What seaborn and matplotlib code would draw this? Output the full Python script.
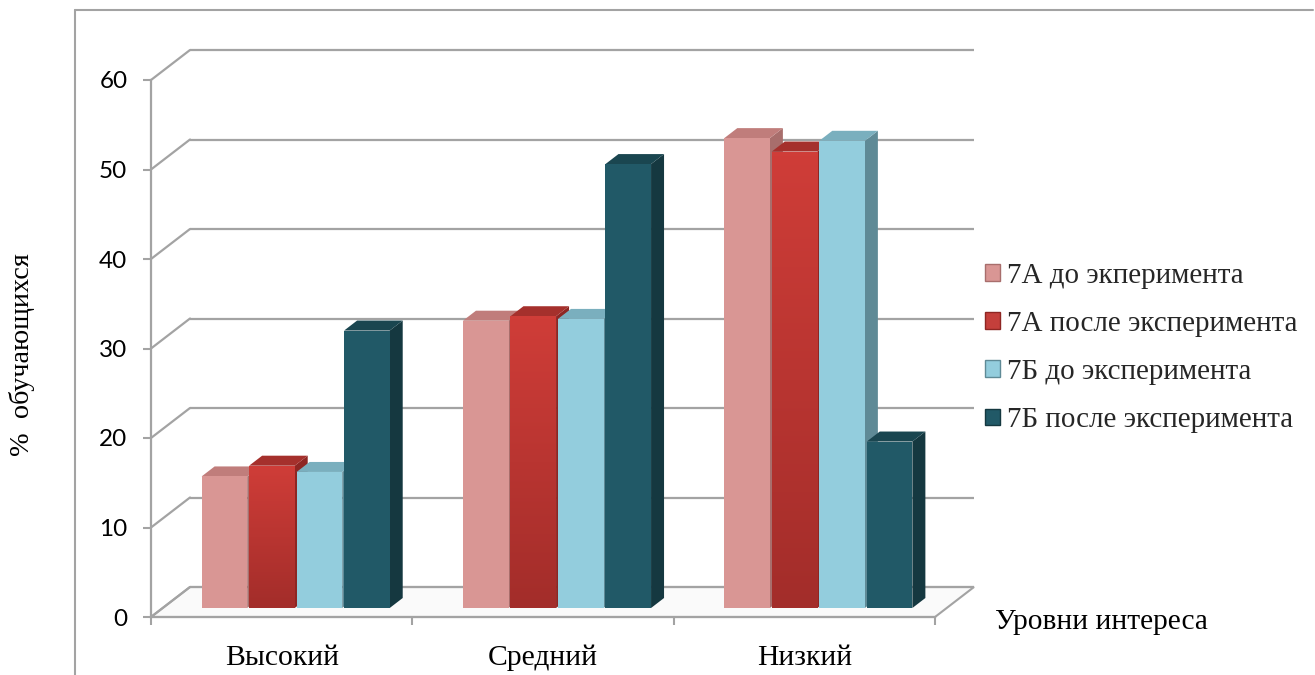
import numpy as np
import pandas as pd
import seaborn as sns
import matplotlib
matplotlib.use("Agg")
import matplotlib.pyplot as plt
from matplotlib import transforms
from matplotlib.patches import Polygon, Rectangle
from matplotlib.lines import Line2D
from matplotlib.colors import LinearSegmentedColormap

# ---- data -------------------------------------------------------------
levels = ["Высокий", "Средний", "Низкий"]
groups = ["7А до экперимента", "7А после эксперимента",
          "7Б до эксперимента", "7Б после эксперимента"]
a_before = [14.7, 32.1, 52.5]
a_after = [15.9, 32.6, 51.0]
b_before = [15.2, 32.3, 52.2]
b_after = [31.0, 49.6, 18.6]
y_ticks = [0, 10, 20, 30, 40, 50, 60]

df = pd.DataFrame({
    "level": levels * 4,
    "group": np.repeat(groups, 3),
    "value": a_before + a_after + b_before + b_after,
})

# ---- styling ----------------------------------------------------------
front = ["#D99694", "#C43F3B", "#93CDDD", "#215967"]
top_c = ["#C07D7B", "#A5302C", "#7AAFBE", "#1A4650"]
side_c = ["#A86E6C", "#8E2623", "#5F8A96", "#153840"]
grad_top = {1: "#CF3D38"}
grad_bot = {1: "#A32D2A"}
grid_col = "#A3A3A3"

sns.set_theme(style="white")
plt.rcParams["font.family"] = ["Lato", "DejaVu Sans"]
serif = ["Liberation Serif", "DejaVu Serif"]

W, H = 1315, 675
fig = plt.figure(figsize=(W / 100, H / 100), dpi=100)
fig.patch.set_facecolor("white")

# front plane of the plot box (pixels): x 151..935, y 617 (0) .. 80 (60)
ax = fig.add_axes([151 / W, 58 / H, 784 / W, 537 / H])
ax.set_xlim(-0.5, 2.5)
ax.set_ylim(0, 60)
ax.patch.set_alpha(0)

px_x = 784 / 3.0      # pixels per category
px_y = 537 / 60.0     # pixels per value unit
back_dx, back_dy = 39 / px_x, 30 / px_y     # depth of the plot box
bar_sx, bar_sy = 14, 9                      # bars sit inside the box (pixels)
depth_dx, depth_dy = 13 / px_x, 10 / px_y   # bar thickness

# floor
floor = Polygon([(-0.5, 0), (-0.5 + back_dx, back_dy), (2.5 + back_dx, back_dy), (2.5, 0)],
                closed=True, facecolor="#FAFAFA", edgecolor=grid_col, lw=1.5,
                zorder=0.5, clip_on=False)
ax.add_patch(floor)

# back wall gridlines and left wall connectors
for t in y_ticks:
    ax.plot([-0.5 + back_dx, 2.5 + back_dx], [t + back_dy, t + back_dy],
            color=grid_col, lw=1.6, zorder=0.6, clip_on=False, solid_capstyle="butt")
    ax.plot([-0.5, -0.5 + back_dx], [t, t + back_dy],
            color=grid_col, lw=1.6, zorder=0.6, clip_on=False)

# bars
sns.barplot(data=df, x="level", y="value", hue="group", order=levels,
            hue_order=groups, palette=front, saturation=1, width=0.727,
            gap=0.04, legend=False, ax=ax, edgecolor="none")

bar_trans = transforms.offset_copy(ax.transData, fig=fig, x=bar_sx, y=bar_sy, units="dots")
bars = [p for p in ax.patches if isinstance(p, Rectangle) and p is not floor]
bars = sorted(bars, key=lambda p: p.get_x())
for rank, p in enumerate(bars):
    x0, y0 = p.get_x(), p.get_y()
    x1, y1 = x0 + p.get_width(), y0 + p.get_height()
    gi = rank % 4
    z = 3 + rank * 0.1
    p.set_transform(bar_trans)
    p.set_zorder(z + 0.05)
    p.set_clip_on(False)
    side = Polygon([(x1, y0), (x1, y1), (x1 + depth_dx, y1 + depth_dy), (x1 + depth_dx, y0 + depth_dy)],
                   closed=True, facecolor=side_c[gi], edgecolor="none",
                   transform=bar_trans, zorder=z, clip_on=False)
    top = Polygon([(x0, y1), (x0 + depth_dx, y1 + depth_dy), (x1 + depth_dx, y1 + depth_dy), (x1, y1)],
                  closed=True, facecolor=top_c[gi], edgecolor="none",
                  transform=bar_trans, zorder=z, clip_on=False)
    ax.add_patch(side)
    ax.add_patch(top)
    if gi in grad_top:
        cmap = LinearSegmentedColormap.from_list("g", [grad_bot[gi], grad_top[gi]])
        img = ax.imshow(np.linspace(0, 1, 64).reshape(-1, 1), cmap=cmap, origin="lower",
                        extent=[x0, x1, y0, y1], aspect="auto", zorder=z + 0.06,
                        transform=bar_trans, interpolation="bilinear")
        img.set_clip_path(p)
        img.set_clip_on(True)

ax.set_xlim(-0.5, 2.5)
ax.set_ylim(0, 60)

# axes: front vertical axis and front floor edge
for s in ["top", "right"]:
    ax.spines[s].set_visible(False)
for s in ["left", "bottom"]:
    ax.spines[s].set_color(grid_col)
    ax.spines[s].set_linewidth(1.6)
    ax.spines[s].set_zorder(0.7)

ax.set_yticks(y_ticks)
ax.set_yticklabels([str(t) for t in y_ticks], fontsize=17.5, color="black")
ax.tick_params(axis="y", direction="out", length=6, width=1.5, color=grid_col, pad=11, left=True)

ax.set_xticks([-0.5, 0.5, 1.5, 2.5])
ax.set_xticklabels([])
ax.set_xticks([0, 1, 2], minor=True)
ax.set_xticklabels(levels, minor=True, fontsize=21.3, family=serif, color="black")
ax.tick_params(axis="x", which="major", direction="out", length=6, width=1.5, color=grid_col, bottom=True)
ax.tick_params(axis="x", which="minor", length=0, pad=20, bottom=True)
ax.set_xlabel("")
ax.set_ylabel("")
ax.grid(False)

# axis titles
fig.text(22 / W, 1 - 355 / H, "%  обучающихся", rotation=90, ha="center", va="center",
         fontsize=20.3, family=serif, color="black")
fig.text(995 / W, 1 - 622 / H, "Уровни интереса", ha="left", va="center",
         fontsize=21.2, family=serif, color="black")

# legend
handles = [Rectangle((0, 0), 1, 1, facecolor=front[i], edgecolor=side_c[i], lw=1)
           for i in range(4)]
leg = fig.legend(handles, groups, loc="center left", bbox_to_anchor=(985 / W, 1 - 348 / H),
                 frameon=False, prop={"family": serif, "size": 20.9},
                 handlelength=0.5, handleheight=0.5, handletextpad=0.25,
                 labelspacing=0.76, borderpad=0, borderaxespad=0)

# outer frame
fig.add_artist(Line2D([75 / W, 75 / W], [0, 1 - 10 / H], transform=fig.transFigure,
                      color=grid_col, lw=1.5))
fig.add_artist(Line2D([75 / W, 1313 / W], [1 - 10 / H, 1 - 10 / H], transform=fig.transFigure,
                      color=grid_col, lw=1.5))

fig.savefig("out.png", dpi=100, facecolor="white")
